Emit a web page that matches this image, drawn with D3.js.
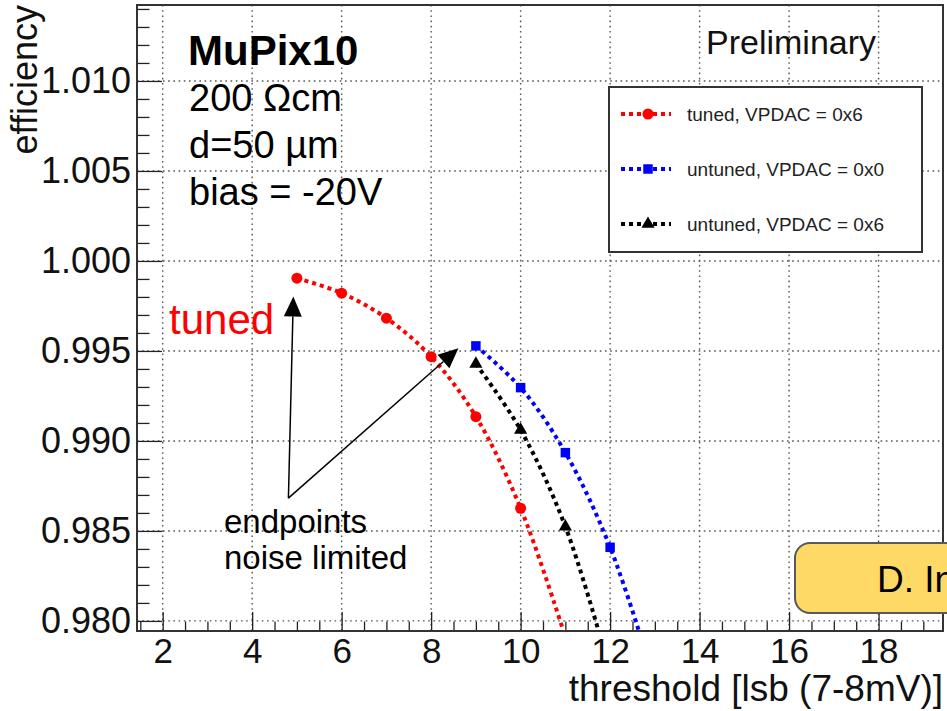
<!DOCTYPE html>
<html>
<head>
<meta charset="utf-8">
<script src="https://cdn.jsdelivr.net/npm/d3@7"></script>
<style>
  body { margin: 0; background: #fff; overflow: hidden; }
  svg { display: block; font-family: "Liberation Sans", Arial, Helvetica, sans-serif; }
</style>
</head>
<body>
<div class="chart"></div>
<script>
// values
const tunedX = [5, 6, 7, 8, 9, 10, 11];
const tunedY = [0.99904, 0.99821, 0.99682, 0.99468, 0.99135, 0.98626, 0.9791];
const untuned0X = [9, 10, 11, 12, 13];
const untuned0Y = [0.99528, 0.99296, 0.98935, 0.98409, 0.9766];
const untuned6X = [9, 10, 11, 12];
const untuned6Y = [0.99428, 0.99061, 0.98524, 0.9772];

const xTicks = [2, 4, 6, 8, 10, 12, 14, 16, 18];
const yTicks = [0.980, 0.985, 0.990, 0.995, 1.000, 1.005, 1.010];

const seriesNames = ["tuned, VPDAC = 0x6", "untuned, VPDAC = 0x0", "untuned, VPDAC = 0x6"];
const seriesColors = ["#ff0000", "#0000ff", "#000000"];
const seriesShapes = [d3.symbolCircle, d3.symbolSquare, d3.symbolTriangle];
const seriesSizes = [95, 90, 75];

const infoLines = ["200 Ωcm", "d=50 µm", "bias = -20V"];

const series = [
	{ xs: tunedX, ys: tunedY },
	{ xs: untuned0X, ys: untuned0Y },
	{ xs: untuned6X, ys: untuned6Y }
].map((s, i) => ({
	name: seriesNames[i], color: seriesColors[i], shape: seriesShapes[i], size: seriesSizes[i],
	points: s.xs.map((v, j) => ({ x: v, y: s.ys[j] }))
}));

const width = 947, height = 711;
const frame = { left: 137, right: 943, top: 5, bottom: 631 };

const x = d3.scaleLinear().domain([1.426, 19.44]).range([frame.left, frame.right]);
const y = d3.scaleLinear().domain([0.97944, 1.01422]).range([frame.bottom, frame.top]);

const svg = d3.select(".chart").append("svg")
	.attr("width", width).attr("height", height)
	.attr("viewBox", [0, 0, width, height]);

svg.append("rect").attr("width", width).attr("height", height).attr("fill", "#fff");

svg.append("defs").append("clipPath").attr("id", "clip")
	.append("rect")
	.attr("x", frame.left).attr("y", frame.top)
	.attr("width", frame.right - frame.left).attr("height", frame.bottom - frame.top);

// grid
const grid = svg.append("g")
	.attr("stroke", "#555").attr("stroke-width", 1.4).attr("stroke-dasharray", "1.6,3.6");
grid.selectAll(".gx").data(xTicks).join("line")
	.attr("x1", d => x(d)).attr("x2", d => x(d))
	.attr("y1", frame.top).attr("y2", frame.bottom);
grid.selectAll(".gy").data(yTicks).join("line")
	.attr("x1", frame.left).attr("x2", frame.right)
	.attr("y1", d => y(d)).attr("y2", d => y(d));

// axes
const tickFont = g => g.selectAll("text").attr("font-size", 35).attr("fill", "#111").attr("font-family", null);
const xMinor = d3.range(1.5, 19.45, 0.5).filter(v => v % 2 !== 0);
const yMinor = d3.range(980, 1015, 1).map(v => v / 1000).filter(v => Math.round(v * 1000) % 5 !== 0);

svg.append("g")
	.attr("transform", `translate(0,${frame.bottom})`)
	.call(d3.axisBottom(x).tickValues(xMinor).tickSize(-9.5).tickFormat(""))
	.call(g => g.select(".domain").remove())
	.call(g => g.selectAll("line").attr("stroke", "#222").attr("stroke-width", 1.3));

svg.append("g")
	.attr("transform", `translate(0,${frame.bottom})`)
	.call(d3.axisBottom(x).tickValues(xTicks).tickSize(-19).tickPadding(7).tickFormat(d3.format("d")))
	.call(g => g.select(".domain").remove())
	.call(g => g.selectAll("line").attr("stroke", "#222").attr("stroke-width", 1.3))
	.call(tickFont);

svg.append("g")
	.attr("transform", `translate(${frame.left},0)`)
	.call(d3.axisLeft(y).tickValues(yMinor).tickSize(-12.5).tickFormat(""))
	.call(g => g.select(".domain").remove())
	.call(g => g.selectAll("line").attr("stroke", "#222").attr("stroke-width", 1.3));

svg.append("g")
	.attr("transform", `translate(${frame.left},0)`)
	.call(d3.axisLeft(y).tickValues(yTicks).tickSize(-25).tickPadding(6).tickFormat(d3.format(".3f")))
	.call(g => g.select(".domain").remove())
	.call(g => g.selectAll("line").attr("stroke", "#222").attr("stroke-width", 1.3))
	.call(g => g.selectAll("text").attr("font-size", 36).attr("fill", "#111").attr("font-family", null));

// frame
svg.append("rect")
	.attr("x", frame.left).attr("y", frame.top)
	.attr("width", frame.right - frame.left).attr("height", frame.bottom - frame.top)
	.attr("fill", "none").attr("stroke", "#333").attr("stroke-width", 2);

// axis titles
svg.append("text")
	.attr("transform", `translate(37,${frame.top}) rotate(-90)`)
	.attr("text-anchor", "end").attr("font-size", 36).attr("fill", "#111")
	.text("efficiency");

svg.append("text")
	.attr("x", frame.right).attr("y", 701)
	.attr("text-anchor", "end").attr("font-size", 37).attr("fill", "#111")
	.text("threshold [lsb (7-8mV)]");

// data
const line = d3.line().x(d => x(d.x)).y(d => y(d.y)).curve(d3.curveCatmullRom);
const plot = svg.append("g").attr("clip-path", "url(#clip)");

series.forEach(s => {
	plot.append("path")
		.datum(s.points)
		.attr("fill", "none").attr("stroke", s.color)
		.attr("stroke-width", 4).attr("stroke-dasharray", "4,4")
		.attr("d", line);
	plot.append("g").selectAll("path")
		.data(s.points)
		.join("path")
		.attr("transform", d => `translate(${x(d.x)},${y(d.y)})`)
		.attr("fill", s.color)
		.attr("d", d3.symbol(s.shape, s.size));
});

// annotations
const textBlock = svg.append("g").attr("fill", "#000");
textBlock.append("text").attr("x", 188).attr("y", 65)
	.attr("font-size", 42).attr("font-weight", "bold").text("MuPix10");
textBlock.selectAll(".info").data(infoLines).join("text")
	.attr("x", 189).attr("y", (_, i) => 111 + i * 47)
	.attr("font-size", 38).text(d => d);

svg.append("text").attr("x", 706).attr("y", 54)
	.attr("font-size", 34).attr("fill", "#111").text("Preliminary");

svg.append("text").attr("x", 169).attr("y", 334)
	.attr("font-size", 42).attr("fill", "#ff0000").text("tuned");

svg.append("text").attr("x", 224).attr("y", 533)
	.attr("font-size", 33).attr("fill", "#000").text("endpoints");
svg.append("text").attr("x", 224).attr("y", 569)
	.attr("font-size", 33).attr("fill", "#000").text("noise limited");

const arrowFrom = { x: 4.81, y: 0.98682 };
const arrowTips = [{ x: 4.92, y: 0.99802 }, { x: 8.61, y: 0.99515 }];
const arrows = svg.append("g");
arrowTips.forEach(t => {
	const x0 = x(arrowFrom.x), y0 = y(arrowFrom.y), x1 = x(t.x), y1 = y(t.y);
	const len = Math.hypot(x1 - x0, y1 - y0), ux = (x1 - x0) / len, uy = (y1 - y0) / len;
	const hl = 20, hw = 9;
	const bx = x1 - ux * hl, by = y1 - uy * hl;
	arrows.append("line")
		.attr("x1", x0).attr("y1", y0).attr("x2", bx).attr("y2", by)
		.attr("stroke", "#000").attr("stroke-width", 1.5);
	arrows.append("path")
		.attr("d", `M${x1},${y1}L${bx - uy * hw},${by + ux * hw}L${bx + uy * hw},${by - ux * hw}Z`)
		.attr("fill", "#000");
});

// legend
const legend = svg.append("g");
legend.append("rect")
	.attr("x", 609).attr("y", 87).attr("width", 313).attr("height", 165)
	.attr("fill", "#fff").attr("stroke", "#333").attr("stroke-width", 2);
const rows = legend.selectAll(".row").data(series).join("g")
	.attr("transform", (_, i) => `translate(0,${114 + i * 55})`);
rows.append("line")
	.attr("x1", 621).attr("x2", 671)
	.attr("stroke", d => d.color).attr("stroke-width", 4).attr("stroke-dasharray", "4,4");
rows.append("path")
	.attr("transform", "translate(648,0)")
	.attr("fill", d => d.color)
	.attr("d", d => d3.symbol(d.shape, d.size)());
rows.append("text")
	.attr("x", 687).attr("dy", "0.35em")
	.attr("font-size", 19).attr("fill", "#222")
	.text(d => d.name);

// name box at the lower right, cut by the picture edge as in the reference
svg.append("rect")
	.attr("x", 795).attr("y", 543).attr("width", 220).attr("height", 70).attr("rx", 15)
	.attr("fill", "#ffd966").attr("stroke", "#595959").attr("stroke-width", 2);
svg.append("text").attr("x", 877).attr("y", 592)
	.attr("font-size", 37).attr("fill", "#000").text("D. In");
</script>
</body>
</html>
